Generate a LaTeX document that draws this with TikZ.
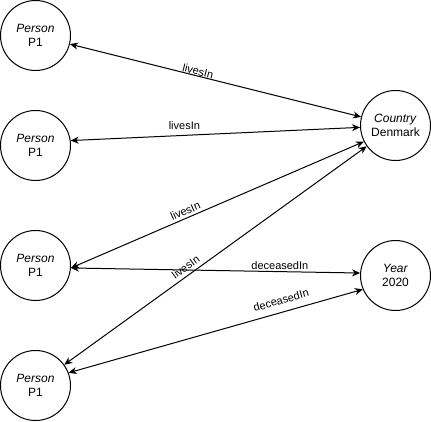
\documentclass[tikz,border=0pt]{standalone}
\usepackage{fontspec}
\setmainfont{Liberation Sans}
\usetikzlibrary{arrows.meta}
\begin{document}
\begin{tikzpicture}[x=1pt,y=-1pt,
  ent/.style={circle,draw,fill=white,line width=1pt,minimum size=70pt,inner sep=0pt,align=center,font=\fontsize{12}{14}\selectfont},
  rel/.style={line width=1pt,{Stealth[length=8pt,width=7pt,inset=2.5pt]}-{Stealth[length=8pt,width=7pt,inset=2.5pt]}},
  lbl/.style={font=\fontsize{11}{13}\selectfont,inner sep=0pt}
]
\useasboundingbox (0,0) rectangle (431,422);
\node[ent] (p1) at (35.5,35.5) {\textit{Person}\\P1};
\node[ent] (p2) at (35.5,145.5) {\textit{Person}\\P1};
\node[ent] (p3) at (35.5,265.5) {\textit{Person}\\P1};
\node[ent] (p4) at (35.5,385.5) {\textit{Person}\\P1};
\node[ent] (c) at (395.5,125.5) {\textit{Country}\\Denmark};
\node[ent] (y) at (395.5,275.5) {\textit{Year}\\2020};

\draw[rel] (p1) -- node[lbl,pos=0.436,sloped,above=0.3pt] {livesIn} (c);
\draw[rel] (p2.8) -- node[lbl,pos=0.393,above=4.9pt] {livesIn} (c.183);
\draw[rel] (p3.356.5) -- node[lbl,pos=0.40,sloped,above=2.5pt] {livesIn} (c.207);
\draw[rel] (p4) -- node[lbl,pos=0.417,sloped,above=3.6pt] {livesIn} (c);
\draw[rel] (p3.356.5) -- node[lbl,pos=0.7225,above=1.7pt] {deceasedIn} (y.176.5);
\draw[rel] (p4.21) -- node[lbl,pos=0.733,sloped,above=7.4pt] {deceasedIn} (y.203);
\end{tikzpicture}
\end{document}
